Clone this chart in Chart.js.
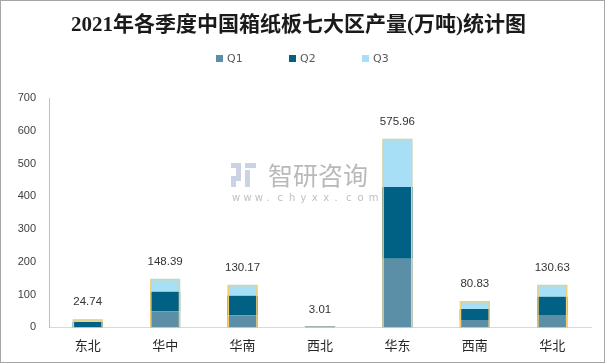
<!DOCTYPE html>
<html>
<head>
<meta charset="utf-8">
<script src="https://cdn.jsdelivr.net/npm/chart.js@4.4.0/dist/chart.umd.min.js"></script>
<style>
  html, body { margin: 0; padding: 0; background: #fff; }
  #wrap { width: 605px; height: 363px; }
</style>
</head>
<body>
<div id="wrap"><canvas id="myChart" width="605" height="363"></canvas></div>
<script>
const regions = ['东北', '华中', '华南', '西北', '华东', '西南', '华北']
const q1 = [0.5, 49, 37, 1, 210, 22.5, 38]
const q2 = [16, 60, 59.6, 1.5, 219, 34, 55.5]
const q3 = [8.24, 39.39, 33.57, 0.51, 146.96, 24.33, 37.13]
const totals = [24.74, 148.39, 130.17, 3.01, 575.96, 80.83, 130.63]
const yTicks = [0, 100, 200, 300, 400, 500, 600, 700]
const seriesNames = ['Q1', 'Q2', 'Q3']
const seriesColors = ['#5b8fa8', '#006184', '#a6dff6']

const sansCJK = '"Microsoft YaHei", "Noto Sans CJK SC", sans-serif'
const numFont = '"Liberation Sans", Arial, sans-serif'

// watermark, legend, frame and total labels
const extras = {
    id: 'extras',
    beforeDatasetsDraw(chart) {
        const c = chart.ctx
        c.save()
        c.fillStyle = '#c9d3e3'
        c.fillRect(231, 163, 10, 5)
        c.fillRect(236, 168, 5, 8)
        c.fillRect(231, 176, 10, 5)
        c.fillRect(231, 181, 5, 6)
        c.fillRect(245, 163, 11, 5)
        c.fillRect(245, 170, 5, 17)
        c.fillStyle = '#b9b9b9'
        c.font = '25px ' + sansCJK
        c.textBaseline = 'middle'
        c.fillText('智研咨询', 268, 175)
        c.font = '10px "DejaVu Sans", sans-serif'
        c.fillStyle = '#c0c0c0'
        const s = 'www.chyxx.com'
        for (let i = 0; i < s.length; i++) c.fillText(s[i], 232 + i * 11.4, 198)

        // legend
        c.font = '11px "DejaVu Sans", sans-serif'
        c.textBaseline = 'middle'
        seriesNames.forEach((n, i) => {
            const x = 216 + i * 73
            c.fillStyle = seriesColors[i]
            c.fillRect(x, 55, 7, 7)
            c.fillStyle = '#595959'
            c.fillText(n, x + 11, 59)
        })
        c.restore()
    },
    afterDatasetsDraw(chart) {
        const c = chart.ctx
        const meta = chart.getDatasetMeta(3)
        c.save()
        c.fillStyle = '#333333'
        c.font = '11.5px ' + numFont
        c.textAlign = 'center'
        c.textBaseline = 'middle'
        meta.data.forEach((bar, i) => {
            c.fillText(totals[i].toFixed(2), bar.x, bar.y - 17)
        })
        c.restore()
    },
    afterDraw(chart) {
        const c = chart.ctx
        c.save()
        c.strokeStyle = '#a6a6a6'
        c.lineWidth = 1
        c.strokeRect(0.5, 0.5, chart.width - 1, chart.height - 1)
        c.restore()
    }
}

const ctx = document.getElementById('myChart')

new Chart(ctx, {
    type: 'bar',
    data: {
        labels: regions,
        datasets: [
            { label: 'Q1', data: q1, backgroundColor: seriesColors[0], stack: 'q', grouped: false },
            { label: 'Q2', data: q2, backgroundColor: seriesColors[1], stack: 'q', grouped: false },
            { label: 'Q3', data: q3, backgroundColor: seriesColors[2], stack: 'q', grouped: false },
            {
                label: 'total', data: totals, backgroundColor: 'rgba(0,0,0,0)',
                borderColor: '#f7cd72', borderWidth: 1.5, stack: 'total', grouped: false, order: -1
            }
        ]
    },
    options: {
        responsive: false,
        animation: false,
        categoryPercentage: 0.78,
        barPercentage: 0.5,
        layout: { padding: { left: 6, right: 14, bottom: 0 } },
        plugins: {
            title: {
                display: true,
                text: '2021年各季度中国箱纸板七大区产量(万吨)统计图',
                color: '#1a1a1a',
                font: { family: '"Liberation Serif", "Noto Sans CJK SC", serif', size: 21, weight: 'bold' },
                padding: { top: 13, bottom: 60 }
            },
            legend: { display: false },
            tooltip: { enabled: false }
        },
        scales: {
            x: {
                stacked: true,
                grid: { display: false, drawTicks: false },
                border: { color: '#d9d9d9' },
                ticks: {
                    color: '#262626',
                    font: { family: sansCJK, size: 13 },
                    padding: 10
                }
            },
            y: {
                stacked: true,
                min: 0,
                max: 700,
                grid: { display: false, drawTicks: false },
                border: { color: '#bfbfbf' },
                afterBuildTicks: axis => { axis.ticks = yTicks.map(v => ({ value: v })) },
                afterFit: axis => { axis.width = 43 },
                ticks: {
                    color: '#404040',
                    font: { family: numFont, size: 11 },
                    padding: 13
                }
            }
        }
    },
    plugins: [extras]
})
</script>
</body>
</html>
